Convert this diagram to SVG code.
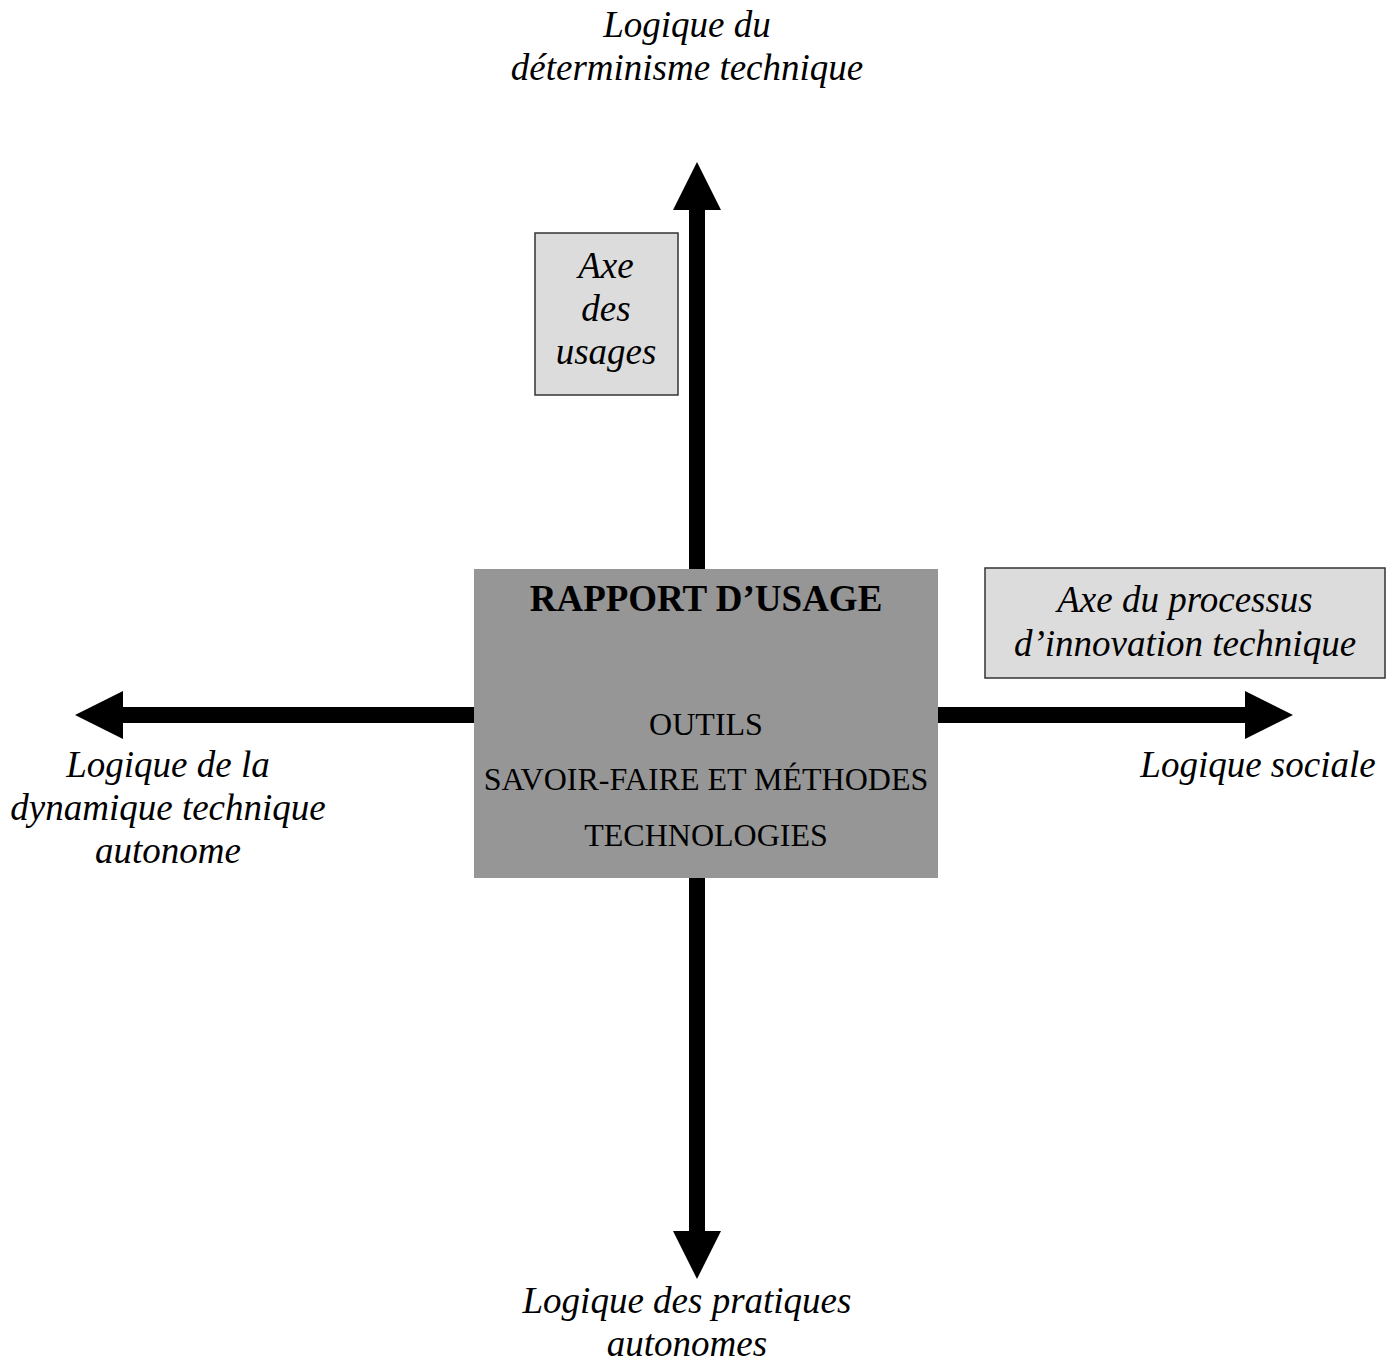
<svg xmlns="http://www.w3.org/2000/svg" width="1392" height="1368" viewBox="0 0 1392 1368">
<style>
.it{font-family:"Liberation Serif","Times New Roman",serif;font-style:italic;font-size:37px;fill:#000;text-anchor:middle}
.rg{font-family:"Liberation Serif","Times New Roman",serif;font-size:32px;fill:#000;text-anchor:middle}
.bd{font-family:"Liberation Serif","Times New Roman",serif;font-weight:bold;font-size:37px;fill:#000;text-anchor:middle}
.axis{stroke:#000;stroke-width:16;fill:none;marker-end:url(#head)}
.label-box{fill:#dcdcdc;stroke:#333;stroke-width:1.5}
</style>
<defs>
<marker id="head" markerUnits="userSpaceOnUse" markerWidth="48" markerHeight="48" viewBox="0 0 48 48" refX="0" refY="24" orient="auto">
<path d="M0,0 L48,24 L0,48 Z" fill="#000"/>
</marker>
</defs>
<rect width="1392" height="1368" fill="#fff"/>
<g id="connectors">
<line class="axis" x1="697" y1="569" x2="697" y2="210"/>
<line class="axis" x1="697" y1="878" x2="697" y2="1231"/>
<line class="axis" x1="474" y1="715" x2="123" y2="715"/>
<line class="axis" x1="938" y1="715" x2="1245" y2="715"/>
</g>
<g id="rapport-usage">
<rect x="474" y="569" width="464" height="309" fill="#969696"/>
<text class="bd" x="706" y="611">RAPPORT D’USAGE</text>
<text class="rg" x="706" y="735">OUTILS</text>
<text class="rg" x="706" y="790">SAVOIR-FAIRE ET MÉTHODES</text>
<text class="rg" x="706" y="846">TECHNOLOGIES</text>
</g>
<g id="axe-usages">
<rect class="label-box" x="535" y="233" width="143" height="162"/>
<text class="it" x="606" y="278">Axe</text>
<text class="it" x="606" y="321">des</text>
<text class="it" x="606" y="364">usages</text>
</g>
<g id="axe-innovation">
<rect class="label-box" x="985" y="568" width="400" height="110"/>
<text class="it" x="1185" y="612">Axe du processus</text>
<text class="it" x="1185" y="656">d’innovation technique</text>
</g>
<g id="logique-determinisme">
<text class="it" x="687" y="37">Logique du</text>
<text class="it" x="687" y="80">déterminisme technique</text>
</g>
<g id="logique-pratiques">
<text class="it" x="687" y="1313">Logique des pratiques</text>
<text class="it" x="687" y="1356">autonomes</text>
</g>
<g id="logique-dynamique">
<text class="it" x="168" y="777">Logique de la</text>
<text class="it" x="168" y="820">dynamique technique</text>
<text class="it" x="168" y="863">autonome</text>
</g>
<g id="logique-sociale">
<text class="it" x="1258" y="777">Logique sociale</text>
</g>
</svg>
